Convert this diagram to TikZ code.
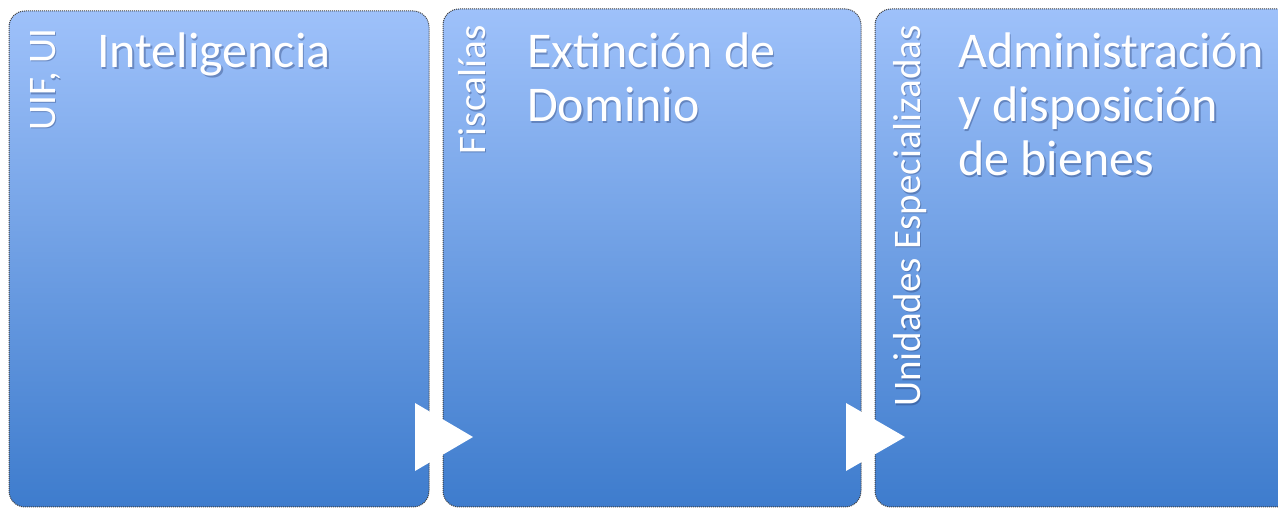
\documentclass[tikz,border=0pt]{standalone}
\usepackage{fontspec}
\setmainfont{Carlito}
\definecolor{ctop}{RGB}{158,193,250}
\definecolor{cbot}{RGB}{62,124,205}
\definecolor{cshadow}{RGB}{30,50,100}
\begin{document}
\begin{tikzpicture}[x=1pt,y=1pt]
\tikzset{
  panel/.style={draw=black!75, densely dotted, line width=1pt, rounded corners=16pt,
    top color=ctop, bottom color=cbot, inner sep=0pt, outer sep=0pt, anchor=south west},
  title/.style={anchor=base west, align=left, inner sep=0pt, text=white,
    font=\fontsize{50}{54}\selectfont},
  side/.style={rotate=90, anchor=base east, inner sep=0pt, text=white,
    font=\fontsize{39}{40}\selectfont},
  shade/.style={text=cshadow, text opacity=0.35},
  flowtri/.style={fill=white, draw=none}
}
\useasboundingbox (0,0) rectangle (1278,511);
\clip (0,0) rectangle (1278,511);
\fill[white] (0,0) rectangle (1278,511);
% panels
\node[panel, minimum width=420pt, minimum height=496pt] (p1) at (9,4) {};
\node[panel, minimum width=418pt, minimum height=498pt] (p2) at (443,4) {};
\node[panel, minimum width=430pt, minimum height=498pt] (p3) at (875,4) {};
% shadows of texts (anchor is the baseline of the last line)
\node[title, shade] (t1s) at (98.5,441) {Inteligencia};
\node[title, shade] (t2s) at (528.5,387) {Extinción de\\Dominio};
\node[title, shade] (t3s) at (959.5,333) {Administración\\y disposición\\de bienes};
\node[side, shade] (s1s) at (56.5,481.5) {UIF, UI};
\node[side, shade] (s2s) at (486.5,484.5) {Fiscalías};
\node[side, shade] (s3s) at (921.5,484.5) {Unidades Especializadas};
% texts
\node[title] (t1) at (97,443) {Inteligencia};
\node[title] (t2) at (527,389) {Extinción de\\Dominio};
\node[title] (t3) at (958,335) {Administración\\y disposición\\de bienes};
\node[side] (s1) at (55,483) {UIF, UI};
\node[side] (s2) at (485,486) {Fiscalías};
\node[side] (s3) at (920,486) {Unidades Especializadas};
% arrows
\coordinate (a1) at (415,74);
\coordinate (a2) at (846,74);
\fill[flowtri] ([yshift=34pt]a1) -- ([yshift=-34pt]a1) -- ([xshift=58pt]a1) -- cycle;
\fill[flowtri] ([yshift=34pt]a2) -- ([yshift=-34pt]a2) -- ([xshift=59pt]a2) -- cycle;
\end{tikzpicture}
\end{document}
